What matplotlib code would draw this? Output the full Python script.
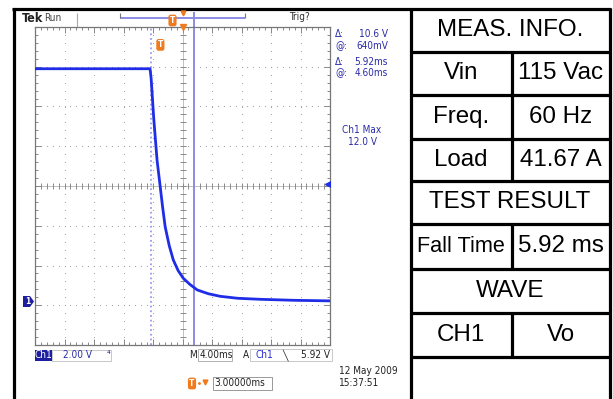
import matplotlib
matplotlib.use('Agg')
import matplotlib.pyplot as plt
from matplotlib.ticker import MultipleLocator
import matplotlib.patches as patches
import numpy as np

# scope trace (ms, V)
t_ms = [0.0, 15.6, 15.75, 16.1, 16.55, 16.95, 17.3, 17.65, 18.2, 18.75,
        19.4, 20.1, 21.0, 22.0, 23.5, 25.1, 27.5, 30.5, 35.0, 40.0]
v_ch1 = [11.7, 11.7, 11.2, 9.2, 7.1, 5.85, 4.75, 3.75, 2.8, 2.08,
         1.55, 1.16, 0.85, 0.57, 0.38, 0.25, 0.15, 0.1, 0.05, 0.02]

cursor1_ms = 15.68
cursor2_ms = 21.6
trig_ms = 17.0
trig_level = 5.92

readouts = ['\u0394:', '@:', '\u0394:', '@:']
readout_vals = ['10.6 V', '640mV', '5.92ms', '4.60ms']

table_rows = [('MEAS. INFO.',), ('Vin', '115 Vac'), ('Freq.', '60 Hz'),
              ('Load', '41.67 A'), ('TEST RESULT',), ('Fall Time', '5.92 ms'),
              ('WAVE',), ('CH1', 'Vo'), ('',)]
row_lines = [9, 51.5, 95, 138.5, 181, 223.5, 269, 313, 356.5, 400]

W, H = 613, 399
fig = plt.figure(figsize=(W / 100, H / 100), dpi=100)
bg = fig.add_axes([0, 0, 1, 1])
bg.set_xlim(0, W)
bg.set_ylim(H, 0)
bg.axis('off')

blue_txt = '#2a2aa8'
orange = '#f07a1e'
lav = '#8c8ce6'
dark = '#222222'
small = dict(family='DejaVu Sans', fontstretch='condensed', fontsize=7.2, va='center')


def seg(xs, ys, **kw):
    bg.plot(xs, ys, solid_capstyle='butt', **kw)


def tmark(axis, x, y, transform=None):
    kw = {} if transform is None else {'transform': transform}
    axis.text(x, y, 'T', fontsize=5.5, ha='center', va='center', color='white',
              fontweight='bold', family='DejaVu Sans',
              bbox=dict(boxstyle='round,pad=0.18,rounding_size=0.3', fc=orange, ec='none'), **kw)


# outer frame and table
lw = 2.3
seg([13.5, 13.5], [7.5, H], color='k', lw=lw)
seg([12.3, 611], [8.5, 8.5], color='k', lw=lw)
seg([410.5, 410.5], [8, H], color='k', lw=lw)
seg([609.8, 609.8], [8, H], color='k', lw=lw)
for y in row_lines[1:-1]:
    seg([409.5, 611], [y, y], color='k', lw=lw)
for i, row in enumerate(table_rows):
    y0, y1 = row_lines[i], row_lines[i + 1]
    yc = (y0 + y1) / 2
    if len(row) == 1:
        bg.text(510, yc, row[0], ha='center', va='center', fontsize=17.4,
                family='Liberation Sans')
    else:
        seg([511.5, 511.5], [y0, y1], color='k', lw=lw)
        fs = 15.6 if row[0] == 'Fall Time' else 17.4
        bg.text(461, yc, row[0], ha='center', va='center', fontsize=fs,
                family='Liberation Sans')
        bg.text(561, yc, row[1], ha='center', va='center', fontsize=17.4,
                family='Liberation Sans')

# scope header
bg.text(22, 18, 'Tek', fontsize=9, fontweight='bold', va='center', family='DejaVu Sans',
        fontstretch='condensed', color=dark)
bg.text(44, 18, 'Run', fontsize=7.2, va='center', family='DejaVu Sans',
        fontstretch='condensed', color='#444444')
seg([77, 77], [13, 27], color='#aaaaaa', lw=0.8)
seg([120, 245], [18, 18], color=lav, lw=1.4)
seg([120, 120], [13, 18], color='#777777', lw=0.8)
seg([245, 245], [13, 18], color='#777777', lw=0.8)
tmark(bg, 172.5, 20.5)
bg.plot([183], [13], marker='v', ms=3.5, color=orange)
bg.text(289, 17, 'Trig?', color='#333333', **small)

# readouts on the right
ys = [34, 46, 62, 73]
for lab, val, y in zip(readouts, readout_vals, ys):
    bg.text(335, y, lab, color=blue_txt, **small)
    bg.text(388, y, val, ha='right', color=blue_txt, **small)
bg.text(362, 130, 'Ch1 Max', ha='center', color=blue_txt, **small)
bg.text(362, 142, '12.0 V', ha='center', color=blue_txt, **small)

# bottom status line
bg.add_patch(patches.Rectangle((52, 350), 59, 11, fill=False, ec='#c8c8c8', lw=0.7))
bg.add_patch(patches.Rectangle((35, 350), 17, 11, fc='#1e1ea0', ec='none'))
bg.text(43.5, 355.5, 'Ch1', ha='center', color='white', **small)
bg.text(63, 355.5, '2.00 V', color=blue_txt, **small)
bg.text(107, 355.5, '\u2074', color=blue_txt, **small)
bg.text(189, 355.5, 'M', color=dark, **small)
bg.add_patch(patches.Rectangle((198, 349), 34, 12, fill=False, ec='#b0b0b0', lw=0.7))
bg.text(199.5, 355.5, '4.00ms', color=dark, **small)
bg.text(243, 355.5, 'A', color=dark, **small)
bg.add_patch(patches.Rectangle((250, 349), 82, 12, fill=False, ec='#c8c8c8', lw=0.7))
bg.text(256, 355.5, 'Ch1', color='#2a2ad0', **small)
bg.text(282, 355.5, '\u2572', color=dark, **small)
bg.text(330, 355.5, '5.92 V', ha='right', color=dark, **small)
bg.text(339, 371, '12 May 2009', color=dark, **small)
bg.text(339, 383, '15:37:51', color=dark, **small)
tmark(bg, 192, 383.5)
bg.plot([199], [383], marker='.', ms=2, color=orange)
bg.plot([205], [382], marker='v', ms=3.5, color=orange)
bg.add_patch(patches.Rectangle((213, 377), 59, 13, fill=False, ec='#999999', lw=0.7))
bg.text(214.5, 383.5, '3.00000ms', color=dark, **small)

# ground marker for ch1
bg.add_patch(patches.Polygon([[23, 296], [30, 296], [34, 301.5], [30, 307], [23, 307]],
                             closed=True, fc='#1e1ea0', ec='none'))
bg.text(27.5, 301.5, '1', fontsize=5.5, ha='center', va='center', color='white', fontweight='bold')

# graticule axes
x0, x1, y0, y1 = 35, 330, 27, 345
ax = fig.add_axes([x0 / W, 1 - y1 / H, (x1 - x0) / W, (y1 - y0) / H])
ax.set_xlim(0, 40)
ax.set_ylim(-2.2, 13.8)
ax.set_facecolor('none')
for s in ax.spines.values():
    s.set_color('#777777')
    s.set_linewidth(0.9)
ax.xaxis.set_major_locator(MultipleLocator(4))
ax.xaxis.set_minor_locator(MultipleLocator(0.8))
ax.set_yticks(np.arange(-2.2, 13.81, 2.0))
ax.set_yticks(np.arange(-2.2, 13.81, 0.4), minor=True)
ax.tick_params(which='both', direction='in', top=True, right=True,
               labelbottom=False, labelleft=False, color='#888888', width=0.7)
ax.tick_params(which='major', length=4)
ax.tick_params(which='minor', length=2.5)

gx = np.arange(4, 40, 4)
gy = np.arange(-0.2, 13.8, 2.0)
dot_y = np.arange(-2.2, 13.81, 0.4)
dot_x = np.arange(0, 40.01, 0.8)
for x in gx:
    if x != 20:
        ax.scatter(np.full(dot_y.size, x), dot_y, s=0.7, color='#a0a0a0', lw=0, zorder=1)
for y in gy:
    if abs(y - 5.8) > 0.01:
        ax.scatter(dot_x, np.full(dot_x.size, y), s=0.7, color='#a0a0a0', lw=0, zorder=1)
# centre crosshair
ax.axhline(5.8, color='#b5b5b5', lw=0.6, zorder=1)
ax.axvline(20, color='#b5b5b5', lw=0.6, zorder=1)
ax.plot(dot_x, np.full(dot_x.size, 5.8), ls='none', marker='|', ms=4, mew=0.7, color='#8a8a8a', zorder=1)
ax.plot(np.full(dot_y.size, 20), dot_y, ls='none', marker='_', ms=4, mew=0.7, color='#8a8a8a', zorder=1)

# cursors
ax.axvline(cursor1_ms, color='#9b9bec', lw=1.3, ls=(0, (1, 1.6)), zorder=2)
ax.axvline(cursor2_ms, ymin=0, ymax=1 + 14 / 318, color=lav, lw=1.4, zorder=2, clip_on=False)

# trace
ax.plot(t_ms, v_ch1, color='#1f2ee6', lw=2.0, zorder=3, solid_joinstyle='round')

# trigger markers
ax.plot([20], [13.8], marker='v', ms=4, color=orange, clip_on=False, zorder=4)
tmark(ax, trig_ms, 12.9)
ax.plot([39.7], [trig_level], marker='<', ms=4, color='#1f2ee6', zorder=4)

fig.savefig('out.png', dpi=100)
